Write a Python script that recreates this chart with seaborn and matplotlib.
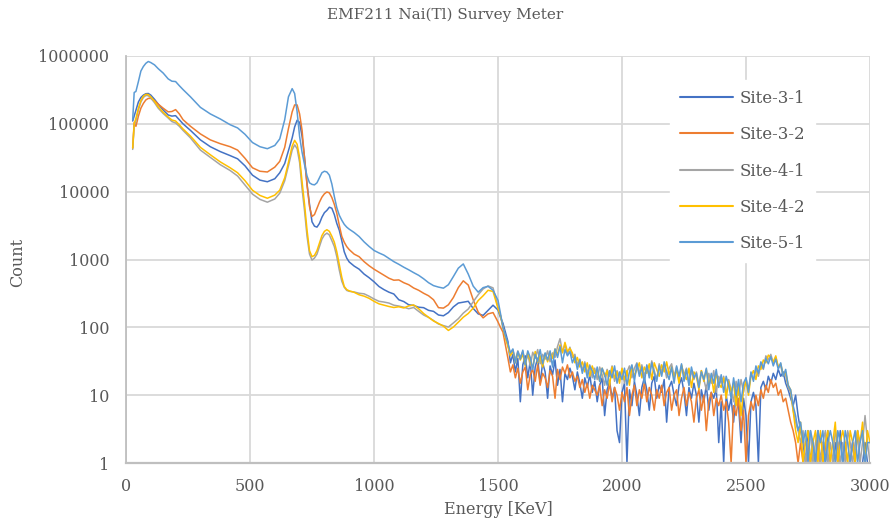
import matplotlib
matplotlib.use("Agg")
import matplotlib.pyplot as plt
import numpy as np
import pandas as pd
import seaborn as sns
from matplotlib.ticker import FixedLocator, FixedFormatter, NullLocator

# ---------------- data ----------------
E_LOW = [27, 33, 40, 50, 60, 70, 80, 90, 100, 115, 130, 150, 170, 185, 200, 215, 230,
         260, 300, 340, 380, 420, 450, 480, 510, 540, 570, 600, 620, 640, 655, 670, 680,
         690, 700, 710, 720, 730, 740, 750, 760, 770, 780, 790, 800, 810, 820, 830, 840,
         850, 860, 870, 880, 890, 900]
E_MID = list(range(920, 1500, 20))
E_HIGH = list(range(1500, 3001, 10))
energy = E_LOW + E_MID + E_HIGH

sites = ["Site-3-1", "Site-3-2", "Site-4-1", "Site-4-2", "Site-5-1"]
colors = ["#4472C4", "#ED7D31", "#A5A5A5", "#FFC000", "#5B9BD5"]

site31_low = [110000, 130000, 160000, 210000, 245000, 265000, 278000, 280000, 265000, 230000,
              195000, 160000, 135000, 130000, 132000, 115000, 100000, 80000, 58000, 46000,
              39000, 34000, 30500, 24000, 17500, 14800, 14000, 15500, 19000, 26000,
              40000, 62000, 90000, 113000, 105000, 65000, 32000, 13000, 6500, 3600,
              3100, 3000, 3400, 4200, 4900, 5300, 5900, 5700, 4600, 3400,
              2700, 1900, 1300, 1050, 920]
site31_mid = [800, 720, 610, 540, 470, 400, 360, 330, 310, 255,
              240, 215, 210, 198, 195, 178, 172, 152, 148, 165,
              200, 228, 235, 242, 190, 158, 150, 178, 212]
site31_high = [180, 140, 115, 85, 62, 30, 40, 22, 35, 8,
               28, 38, 18, 32, 10, 26, 35, 15, 30, 22,
               9, 27, 20, 33, 14, 24, 8, 21, 17, 25,
               19, 12, 22, 15, 9, 18, 13, 20, 11, 16,
               8, 14, 18, 5, 12, 16, 9, 13, 3, 2,
               11, 15, 1, 12, 7, 16, 10, 5, 13, 18,
               12, 6, 15, 19, 9, 14, 11, 17, 4, 13,
               16, 10, 7, 14, 18, 11, 5, 13, 9, 15,
               10, 4, 12, 8, 14, 6, 11, 9, 13, 2,
               8, 1, 10, 6, 9, 4, 11, 7, 2, 9,
               5, 1, 8, 11, 7, 1, 13, 16, 12, 19,
               15, 21, 17, 24, 19, 22, 15, 12, 9, 7,
               10, 5, 3, 2, 1, 3, 1, 2, 1, 3,
               1, 2, 1, 3, 1, 1, 2, 1, 3, 1,
               2, 1, 1, 2, 1, 3, 1, 1, 2, 1,
               1]

site32_low = [44000, 105000, 92000, 130000, 170000, 200000, 225000, 237000, 237000, 220000,
              195000, 170000, 150000, 152000, 162000, 140000, 115000, 92000, 71000, 58000,
              51000, 46000, 41000, 31000, 22500, 20000, 19500, 23000, 28000, 45000,
              85000, 150000, 190000, 190000, 140000, 80000, 30000, 12500, 6000, 4300,
              4600, 5700, 7000, 8300, 9300, 9900, 9600, 8200, 6500, 4800,
              3200, 2200, 1800, 1550, 1400]
site32_mid = [1200, 1100, 930, 810, 720, 650, 585, 530, 495, 500,
              455, 425, 380, 352, 318, 292, 255, 195, 192, 215,
              275, 385, 485, 420, 255, 168, 138, 158, 165]
site32_high = [120, 100, 85, 55, 35, 22, 28, 18, 25, 15,
               22, 26, 12, 20, 24, 16, 28, 14, 21, 18,
               13, 23, 19, 9, 24, 17, 26, 21, 28, 18,
               22, 16, 19, 13, 17, 11, 15, 9, 14, 12,
               10, 14, 7, 12, 9, 15, 8, 13, 10, 6,
               11, 8, 13, 5, 10, 14, 7, 12, 9, 15,
               8, 13, 10, 6, 12, 9, 14, 7, 11, 13,
               6, 10, 12, 5, 9, 13, 7, 11, 8, 4,
               9, 12, 6, 10, 3, 8, 11, 5, 9, 7,
               10, 6, 8, 4, 1, 7, 5, 9, 3, 6,
               1, 5, 8, 6, 10, 7, 12, 9, 14, 11,
               17, 13, 15, 10, 12, 8, 9, 6, 4, 3,
               2, 1, 2, 1, 1, 2, 1, 1, 1, 2,
               1, 1, 2, 1, 1, 1, 1, 2, 1, 1,
               1, 1, 1, 2, 1, 1, 1, 1, 1, 1,
               1]

site41_low = [42000, 95000, 110000, 160000, 210000, 245000, 262000, 260000, 240000, 205000,
              170000, 142000, 122000, 108000, 103000, 92000, 80000, 62000, 41000, 32000,
              25000, 20500, 17000, 12500, 9200, 7700, 7000, 7800, 9500, 14500,
              24000, 41000, 49000, 43000, 27000, 11000, 5200, 2200, 1200, 980,
              1050, 1200, 1550, 2000, 2300, 2450, 2300, 1900, 1550, 1100,
              700, 480, 390, 350, 340]
site41_mid = [332, 318, 312, 288, 262, 242, 236, 228, 212, 206,
              198, 188, 196, 172, 152, 140, 126, 112, 106, 101,
              116, 134, 162, 186, 238, 302, 368, 408, 382]
site41_high = [200, 150, 100, 72, 55, 40, 47, 33, 45, 36,
               44, 30, 41, 27, 43, 35, 47, 29, 40, 34,
               45, 31, 42, 36, 52, 68, 43, 56, 40, 51,
               36, 40, 28, 34, 23, 31, 21, 28, 18, 25,
               17, 26, 20, 14, 24, 19, 27, 16, 23, 18,
               24, 15, 22, 27, 18, 25, 30, 21, 28, 19,
               27, 20, 32, 23, 17, 29, 22, 28, 18, 25,
               29, 19, 26, 16, 27, 20, 25, 14, 23, 17,
               22, 14, 23, 17, 12, 21, 15, 23, 11, 19,
               15, 19, 10, 17, 12, 8, 16, 10, 17, 11,
               18, 12, 21, 17, 24, 19, 28, 24, 38, 33,
               40, 30, 36, 26, 27, 19, 20, 13, 11, 6,
               4, 3, 2, 3, 1, 2, 3, 1, 2, 3,
               1, 2, 3, 1, 2, 1, 3, 2, 1, 2,
               1, 3, 2, 1, 2, 3, 1, 2, 5, 2,
               1]

site42_low = [44000, 100000, 120000, 170000, 220000, 255000, 272000, 270000, 250000, 215000,
              178000, 148000, 126000, 114000, 110000, 97000, 84000, 66000, 45000, 35000,
              27500, 22500, 19000, 14500, 10500, 8800, 8000, 8900, 10500, 16000,
              27000, 47000, 57000, 50000, 32000, 14000, 6500, 2700, 1350, 1100,
              1150, 1350, 1750, 2250, 2600, 2750, 2600, 2200, 1800, 1300,
              850, 550, 400, 360, 345]
site42_mid = [328, 302, 288, 268, 242, 222, 212, 203, 196, 201,
              193, 207, 214, 188, 160, 141, 124, 114, 104, 90,
              101, 119, 141, 160, 192, 248, 292, 352, 338]
site42_high = [190, 150, 100, 70, 52, 38, 45, 30, 42, 33,
               40, 27, 43, 32, 25, 44, 30, 38, 26, 41,
               31, 43, 35, 48, 39, 55, 42, 60, 44, 49,
               42, 30, 36, 26, 31, 22, 30, 19, 27, 21,
               24, 16, 25, 19, 23, 14, 26, 18, 22, 15,
               25, 17, 23, 14, 27, 19, 24, 30, 18, 26,
               21, 29, 17, 30, 24, 19, 28, 22, 31, 20,
               26, 18, 24, 15, 28, 20, 17, 25, 13, 22,
               19, 12, 23, 16, 24, 14, 20, 11, 21, 15,
               13, 18, 9, 16, 11, 15, 7, 14, 5, 12,
               16, 10, 19, 23, 17, 27, 24, 33, 30, 39,
               36, 31, 38, 26, 29, 20, 22, 14, 12, 6,
               3, 2, 4, 1, 2, 3, 1, 2, 3, 1,
               3, 1, 2, 3, 1, 2, 4, 1, 2, 3,
               2, 1, 3, 2, 1, 3, 2, 4, 1, 3,
               2]

site51_low = [115000, 290000, 300000, 420000, 600000, 700000, 780000, 830000, 800000, 740000,
              650000, 560000, 460000, 425000, 420000, 365000, 320000, 250000, 175000, 140000,
              118000, 97000, 87000, 70000, 53000, 46000, 43000, 48000, 60000, 115000,
              250000, 330000, 280000, 150000, 65000, 38000, 25000, 17000, 13500, 12800,
              12600, 13500, 16000, 19000, 20000, 19500, 17500, 13000, 8500, 5800,
              4500, 3800, 3300, 3000, 2800]
site51_mid = [2500, 2180, 1820, 1560, 1360, 1250, 1160, 1040, 930, 850,
              770, 705, 640, 585, 520, 455, 412, 392, 378, 425,
              560, 745, 860, 610, 405, 330, 385, 402, 352]
site51_high = [250, 160, 100, 75, 58, 42, 48, 30, 44, 34,
               46, 28, 45, 36, 24, 40, 31, 47, 29, 42,
               33, 45, 26, 48, 36, 52, 30, 47, 38, 44,
               30, 37, 24, 33, 21, 29, 18, 27, 23, 17,
               26, 16, 25, 20, 14, 23, 18, 27, 15, 22,
               17, 25, 14, 22, 28, 16, 29, 19, 26, 15,
               28, 18, 30, 21, 16, 27, 19, 31, 22, 17,
               26, 15, 27, 19, 29, 16, 24, 14, 26, 18,
               21, 13, 22, 17, 25, 12, 21, 15, 24, 13,
               20, 11, 19, 14, 9, 18, 10, 17, 8, 15,
               18, 11, 22, 16, 27, 21, 31, 25, 35, 29,
               37, 27, 34, 24, 30, 19, 24, 14, 12, 7,
               5, 3, 4, 2, 3, 1, 3, 2, 1, 3,
               2, 3, 1, 2, 3, 2, 1, 3, 2, 1,
               3, 2, 1, 2, 3, 1, 2, 3, 1, 2,
               2]

y_ticks = [1, 10, 100, 1000, 10000, 100000, 1000000]
y_tick_labels = ["1", "10", "100", "1000", "10000", "100000", "1000000"]
x_ticks = [0, 500, 1000, 1500, 2000, 2500, 3000]

series = {
    "Site-3-1": site31_low + site31_mid + site31_high,
    "Site-3-2": site32_low + site32_mid + site32_high,
    "Site-4-1": site41_low + site41_mid + site41_high,
    "Site-4-2": site42_low + site42_mid + site42_high,
    "Site-5-1": site51_low + site51_mid + site51_high,
}

frames = []
for s in sites:
    frames.append(pd.DataFrame({"Energy": energy, "Count": series[s], "Site": s}))
df = pd.concat(frames, ignore_index=True)

# ---------------- style ----------------
sns.set_theme(style="white")
plt.rcParams["font.family"] = ["DejaVu Serif"]
TXT = "#595959"

fig = plt.figure(figsize=(8.91, 5.25), dpi=100)
W, H = 891, 525
ax = fig.add_axes([126 / W, (H - 463) / H, 744 / W, 407 / H])

sns.lineplot(data=df, x="Energy", y="Count", hue="Site", hue_order=sites,
             palette=dict(zip(sites, colors)), estimator=None, sort=False,
             linewidth=1.1, ax=ax)

ax.set_yscale("log")
ax.set_ylim(1, 1e6)
ax.set_xlim(0, 3000)
ax.yaxis.set_major_locator(FixedLocator(y_ticks))
ax.yaxis.set_major_formatter(FixedFormatter(y_tick_labels))
ax.yaxis.set_minor_locator(NullLocator())
ax.xaxis.set_major_locator(FixedLocator(x_ticks))
ax.set_xlabel("")
ax.set_ylabel("")

ax.grid(True, color="#d9d9d9", linewidth=1.3)
ax.set_axisbelow(True)
for side in ["top", "right"]:
    ax.spines[side].set_visible(False)
ax.spines["left"].set_color("#bfbfbf")
ax.spines["left"].set_linewidth(1.3)
ax.spines["bottom"].set_color("#bfbfbf")
ax.spines["bottom"].set_linewidth(1.6)
ax.tick_params(axis="both", length=0, labelsize=11.5, labelcolor=TXT)
ax.tick_params(axis="y", pad=12)
ax.tick_params(axis="x", pad=11)

fig.text(0.5, 1 - 15 / H, "EMF211 Nai(Tl) Survey Meter", ha="center", va="center",
         fontsize=11, color=TXT)
fig.text(498 / W, 1 - 510 / H, "Energy [KeV]", ha="center", va="center",
         fontsize=11.5, color=TXT)
fig.text(18 / W, 1 - 262 / H, "Count", ha="center", va="center", rotation=90,
         fontsize=11.5, color=TXT)

handles, labels = ax.get_legend_handles_labels()
if ax.get_legend() is not None:
    ax.get_legend().remove()
leg = ax.legend(handles, labels, loc="upper left",
                bbox_to_anchor=(670 / W, 1 - 80 / H), bbox_transform=fig.transFigure,
                frameon=True, facecolor="white", edgecolor="white", framealpha=1,
                fancybox=False, fontsize=12, handlelength=3.2, handletextpad=0.35,
                labelspacing=1.16, borderpad=0.6, borderaxespad=0)
for t in leg.get_texts():
    t.set_color(TXT)
for h in leg.legend_handles:
    h.set_linewidth(1.5)

fig.savefig("out.png", dpi=100)
